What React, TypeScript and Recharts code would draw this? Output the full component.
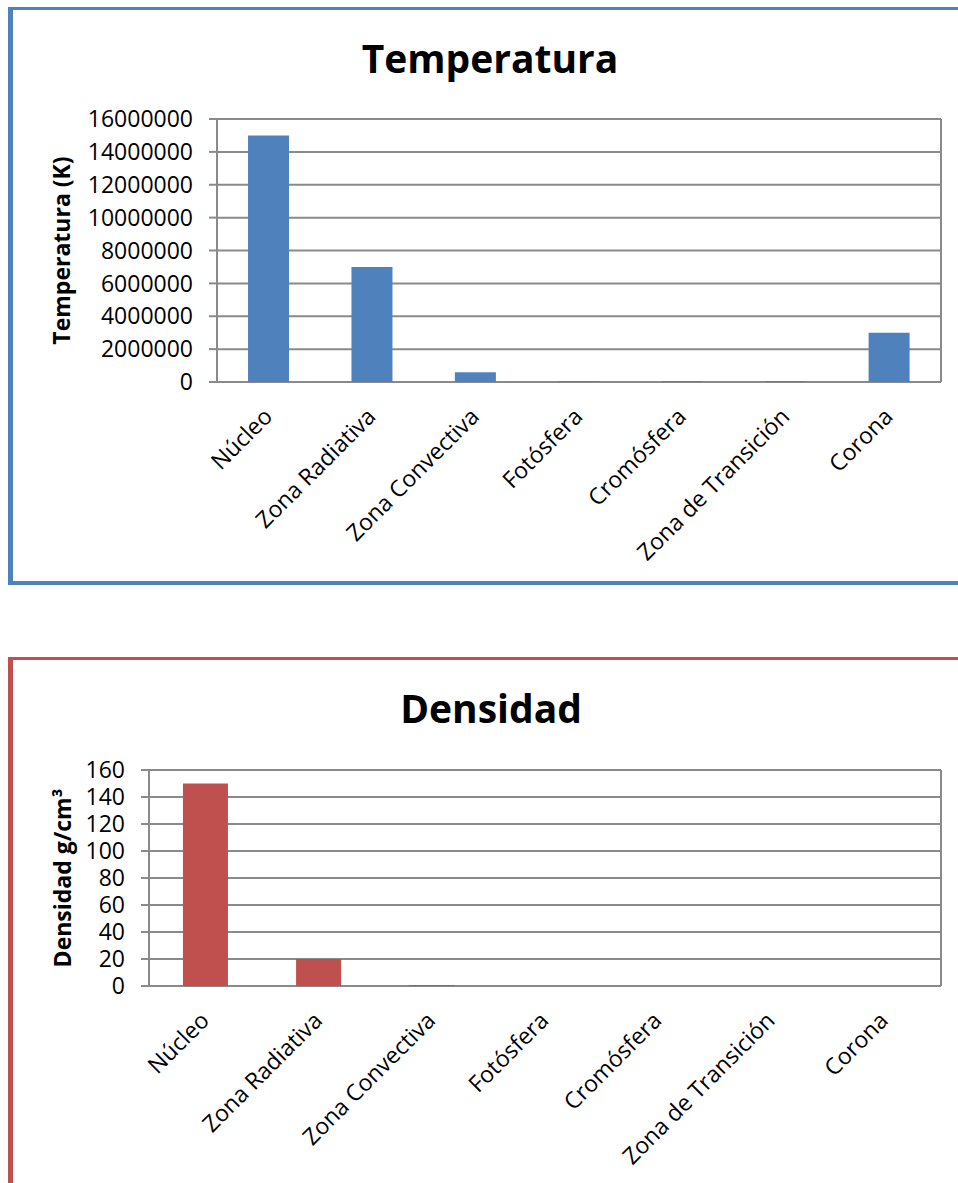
import React from 'react';
import { BarChart, Bar, XAxis, YAxis, CartesianGrid } from 'recharts';

const categories = ['Núcleo', 'Zona Radiativa', 'Zona Convectiva', 'Fotósfera', 'Cromósfera', 'Zona de Transición', 'Corona'];
const temperatura = [15000000, 7000000, 600000, 5800, 10000, 20000, 3000000];
const densidad = [150, 20, 0.2, 0, 0, 0, 0];
const tempTicks = [0, 2000000, 4000000, 6000000, 8000000, 10000000, 12000000, 14000000, 16000000];
const densTicks = [0, 20, 40, 60, 80, 100, 120, 140, 160];

const tempData = categories.map((name, i) => ({ name, value: temperatura[i] }));
const densData = categories.map((name, i) => ({ name, value: densidad[i] }));
const boundaryTicks = categories.map((_, i) => i).concat(categories.length);

const FONT = "'Open Sans', sans-serif";
const GRID = '#8a8a8a';

const CatTick = (props: any) => {
  const { x, y, payload } = props;
  return (
    <g transform={`translate(${x + 5},${y + 36})`}>
      <text transform="rotate(-45)" textAnchor="end" fontSize={23} fontFamily={FONT} fill="#000">
        {payload.value}
      </text>
    </g>
  );
};

const makeYLabel = (text: string, bx: number) => (props: any) => {
  const vb = props.viewBox || {};
  const cx = (vb.x || 0) + bx;
  const cy = (vb.y || 0) + (vb.height || 0) / 2;
  return (
    <text x={cx} y={cy} transform={`rotate(-90 ${cx} ${cy})`} textAnchor="middle" fontSize={23} fontWeight="bold" fontFamily={FONT} fill="#000">
      {text}
    </text>
  );
};

type PanelProps = {
  data: { name: string; value: number }[];
  ticks: number[];
  color: string;
  height: number;
  top: number;
  yWidth: number;
  catHeight: number;
  label: string;
  labelX: number;
};

const minSize = (value: any) => (Number(value) > 0 ? 1 : 0);

const Panel = ({ data, ticks, color, height, top, yWidth, catHeight, label, labelX }: PanelProps) => (
  <BarChart
    width={958}
    height={height}
    data={data}
    margin={{ top, right: 17, bottom: 0, left: 0 }}
    barCategoryGap="30%"
  >
    <CartesianGrid xAxisId="grid" stroke={GRID} strokeWidth={2} />
    <XAxis
      xAxisId="grid"
      type="number"
      domain={[0, categories.length]}
      ticks={boundaryTicks}
      interval={0}
      height={0}
      tick={false}
      tickSize={7}
      axisLine={{ stroke: GRID, strokeWidth: 2 }}
      tickLine={{ stroke: GRID, strokeWidth: 2 }}
      allowDataOverflow
    />
    <XAxis
      xAxisId="cat"
      dataKey="name"
      type="category"
      height={catHeight}
      interval={0}
      axisLine={false}
      tickLine={false}
      tickSize={0}
      tickMargin={0}
      tick={<CatTick />}
    />
    <YAxis
      domain={[ticks[0], ticks[ticks.length - 1]]}
      ticks={ticks}
      interval={0}
      width={yWidth}
      tickSize={8}
      tickMargin={16}
      axisLine={{ stroke: GRID, strokeWidth: 2 }}
      tickLine={{ stroke: GRID, strokeWidth: 2 }}
      tick={{ fill: '#000', fontSize: 23, fontFamily: FONT }}
      label={{ content: makeYLabel(label, labelX) }}
    />
    <Bar xAxisId="cat" dataKey="value" fill={color} minPointSize={minSize} isAnimationActive={false} />
  </BarChart>
);

export default function App() {
  return (
    <div style={{ position: 'absolute', left: 0, top: 0, width: 958, height: 1183, overflow: 'hidden', background: '#fff' }}>
      <div
        style={{
          position: 'absolute', left: 8, top: 7, width: 1000, height: 578, boxSizing: 'border-box',
          borderTop: '3px solid #4F81BD', borderLeft: '5px solid #4F81BD', borderBottom: '4px solid #4F81BD',
        }}
      />
      <div
        style={{
          position: 'absolute', left: 8, top: 657, width: 1000, height: 600, boxSizing: 'border-box',
          borderTop: '3px solid #C0504D', borderLeft: '5px solid #C0504D',
        }}
      />
      <div style={{ position: 'absolute', left: 0, top: 0 }}>
        <Panel data={tempData} ticks={tempTicks} color="#4F81BD" height={600} top={119} yWidth={217} catHeight={218} label="Temperatura (K)" labelX={70} />
      </div>
      <div style={{ position: 'absolute', left: 0, top: 600 }}>
        <Panel data={densData} ticks={densTicks} color="#C0504D" height={583} top={170} yWidth={149} catHeight={197} label="Densidad g/cm³" labelX={71} />
      </div>
      <svg width={958} height={1183} style={{ position: 'absolute', left: 0, top: 0, pointerEvents: 'none' }}>
        <text x={490} y={73} textAnchor="middle" fontSize={39} fontWeight="bold" fontFamily={FONT} fill="#000">Temperatura</text>
        <text x={491} y={723} textAnchor="middle" fontSize={39} fontWeight="bold" fontFamily={FONT} fill="#000">Densidad</text>
      </svg>
    </div>
  );
}
